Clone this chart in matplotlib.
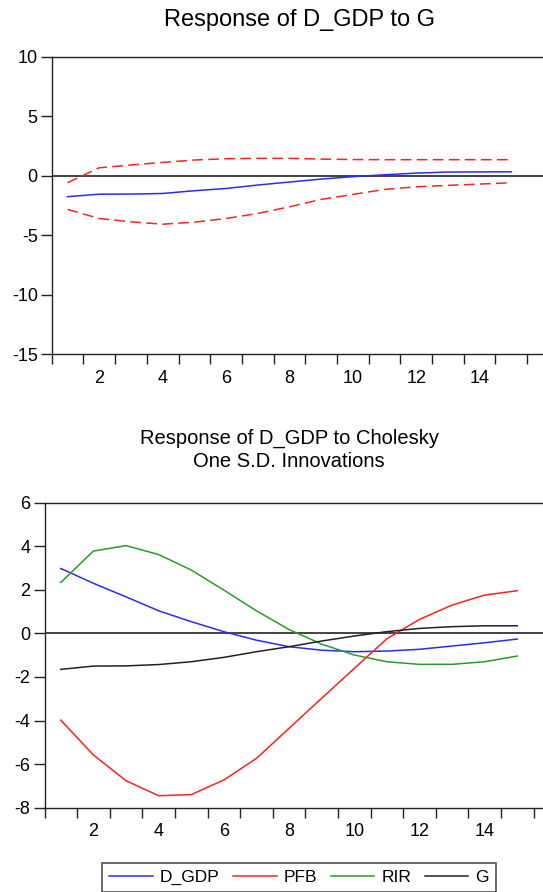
import numpy as np
import matplotlib
matplotlib.use("Agg")
import matplotlib.pyplot as plt
from matplotlib.ticker import FixedLocator

plt.rcParams["font.family"] = ["Liberation Sans", "DejaVu Sans"]
plt.rcParams["axes.unicode_minus"] = False

# ── DATA ──────────────────────────────────────────────────────────
periods = np.arange(1, 16)

# Response of D_GDP to G (with +/- 2 S.E. bands)
resp_g = [-1.76, -1.55, -1.54, -1.49, -1.26, -1.07, -0.78, -0.53,
          -0.28, -0.08, 0.08, 0.22, 0.31, 0.32, 0.33]
band_up = [-0.59, 0.67, 0.90, 1.12, 1.32, 1.43, 1.46, 1.46,
           1.40, 1.36, 1.35, 1.35, 1.35, 1.35, 1.35]
band_lo = [-2.83, -3.59, -3.87, -4.07, -3.90, -3.59, -3.17, -2.61,
           -1.99, -1.57, -1.15, -0.93, -0.81, -0.70, -0.59]

# Response of D_GDP to Cholesky one S.D. innovations
series_names = ["D_GDP", "PFB", "RIR", "G"]
d_gdp = [2.98, 2.30, 1.68, 1.04, 0.54, 0.08, -0.31, -0.61,
         -0.77, -0.84, -0.81, -0.73, -0.58, -0.43, -0.26]
pfb = [-3.98, -5.58, -6.76, -7.45, -7.40, -6.73, -5.74, -4.36,
       -2.98, -1.61, -0.25, 0.64, 1.30, 1.76, 1.96]
rir = [2.34, 3.78, 4.03, 3.62, 2.91, 1.99, 1.04, 0.18,
       -0.49, -0.99, -1.30, -1.42, -1.42, -1.30, -1.04]
g = [-1.65, -1.50, -1.49, -1.43, -1.30, -1.10, -0.84, -0.61,
     -0.35, -0.12, 0.08, 0.23, 0.31, 0.35, 0.35]
series_colors = ["#2a2aff", "#ff2020", "#2a9a2a", "#222222"]

W, H = 543, 892


def style_axes(ax, xmax):
    ax.set_xlim(0.5, xmax)
    ax.spines["right"].set_visible(False)
    for s in ("left", "top", "bottom"):
        ax.spines[s].set_linewidth(1.0)
        ax.spines[s].set_color("#222222")
    ax.axhline(0, color="#222222", linewidth=1.2, zorder=1)
    # labels on even periods, tick marks between periods
    ax.xaxis.set_major_locator(FixedLocator(range(2, 16, 2)))
    ax.xaxis.set_minor_locator(FixedLocator(np.arange(0.5, 16.0, 1.0)))
    ax.tick_params(axis="x", which="major", length=0, pad=11, labelsize=13)
    ax.tick_params(axis="x", which="minor", length=7, width=1.0,
                   direction="out", color="#222222")
    ax.tick_params(axis="y", length=8, width=1.0, direction="out",
                   color="#222222", labelsize=13, pad=2)


fig = plt.figure(figsize=(W / 100, H / 100), dpi=100)

# ── top panel ─────────────────────────────────────────────────────
l1, t1, b1 = 51.7, 56.7, 354.3
ax1 = fig.add_axes([l1 / W, 1 - b1 / H, 1 - l1 / W, (b1 - t1) / H])
ax1.plot(periods, resp_g, color="#2a2aff", linewidth=1.1, zorder=3)
ax1.plot(periods, band_up, color="#ff2020", linewidth=1.1,
         dashes=(7, 3.5), zorder=2)
ax1.plot(periods, band_lo, color="#ff2020", linewidth=1.1,
         dashes=(7, 3.5), zorder=2)
ax1.set_ylim(-15, 10)
ax1.set_yticks([10, 5, 0, -5, -10, -15])
style_axes(ax1, 0.5 + (W - l1) / 31.7)

fig.text(300 / W, 1 - 20 / H, "Response of D_GDP to G",
         ha="center", va="center", fontsize=17)

# ── bottom panel ──────────────────────────────────────────────────
l2, t2, b2 = 44.5, 502.7, 807.7
ax2 = fig.add_axes([l2 / W, 1 - b2 / H, 1 - l2 / W, (b2 - t2) / H])
for name, vals, col in zip(series_names, [d_gdp, pfb, rir, g], series_colors):
    ax2.plot(periods, vals, color=col, linewidth=1.1, label=name, zorder=3)
ax2.set_ylim(-8, 6)
ax2.set_yticks([6, 4, 2, 0, -2, -4, -6, -8])
style_axes(ax2, 0.5 + (W - l2) / 32.6)

fig.text(289 / W, 1 - 450 / H,
         "Response of D_GDP to Cholesky\nOne S.D. Innovations",
         ha="center", va="center", fontsize=14.5, linespacing=1.25)

leg = fig.legend(*ax2.get_legend_handles_labels(), loc="upper center",
                 bbox_to_anchor=(299 / W, 1 - 863 / H), ncol=4,
                 fontsize=12.5, frameon=True, fancybox=False, shadow=False,
                 handlelength=2.5, handletextpad=0.4, columnspacing=0.8,
                 borderpad=0.4, borderaxespad=0)
leg.get_frame().set_edgecolor("#222222")
leg.get_frame().set_linewidth(1.2)

fig.savefig("out.png", dpi=100)
